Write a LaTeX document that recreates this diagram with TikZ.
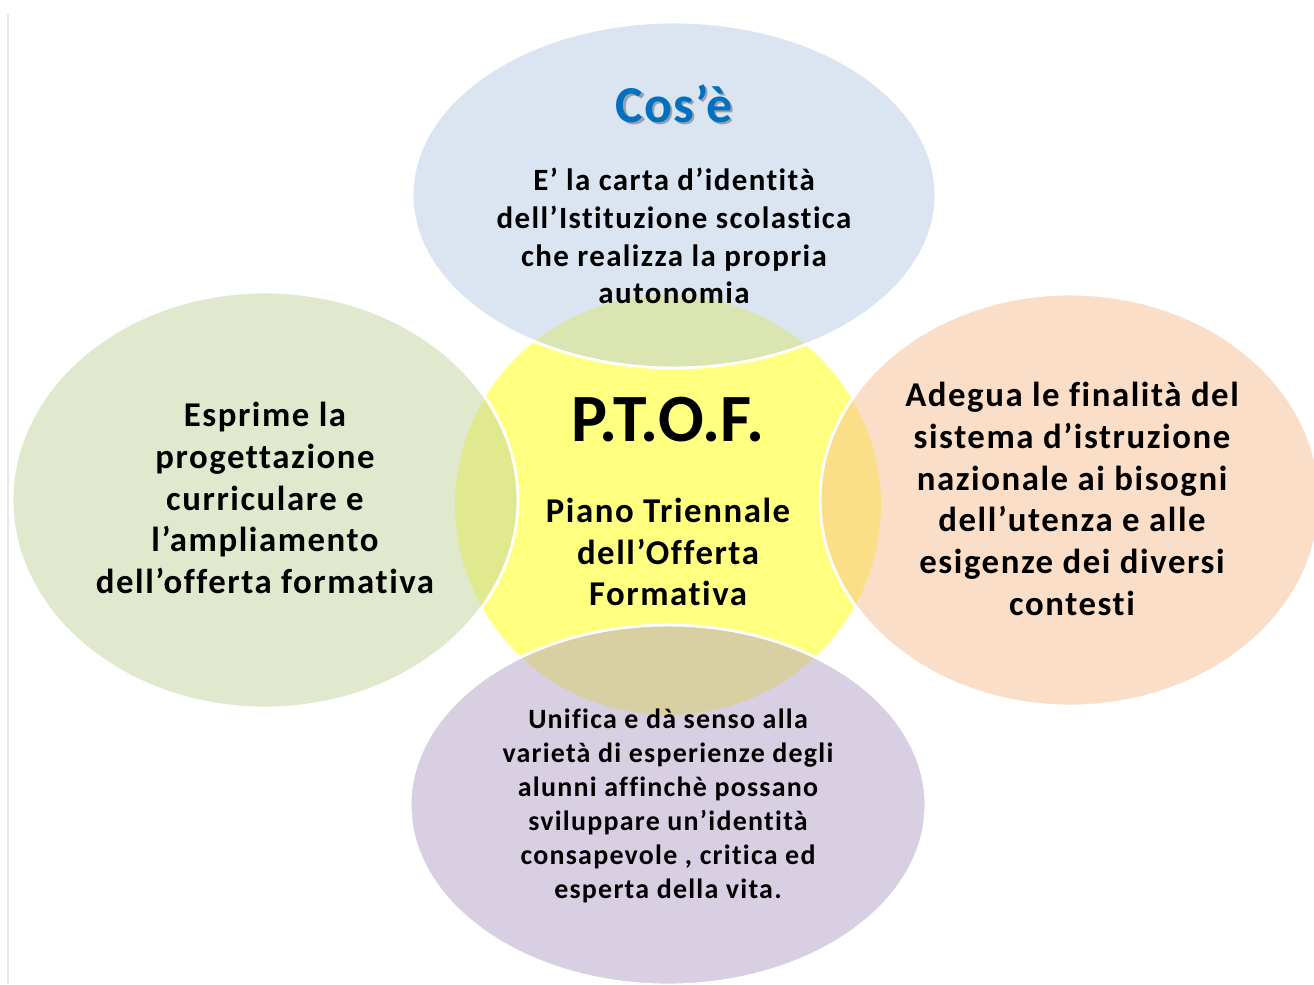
\documentclass[tikz,border=0pt]{standalone}
\usepackage{fontspec}
\setmainfont{Carlito}[Ligatures={NoCommon,NoRare,NoContextual}]
\newfontfamily\testofont{Carlito}[LetterSpace=4.5, Ligatures={NoCommon,NoRare,NoContextual}]
\newfontfamily\titolofont{Carlito}[LetterSpace=2, Ligatures={NoCommon,NoRare,NoContextual}]
\usetikzlibrary{shapes.geometric}

\definecolor{bluPetalo}{RGB}{185,205,229}
\definecolor{verdePetalo}{RGB}{195,212,157}
\definecolor{aranciaPetalo}{RGB}{247,191,145}
\definecolor{violaPetalo}{RGB}{179,161,199}
\definecolor{gialloCentro}{RGB}{255,255,128}
\definecolor{bluTitolo}{RGB}{0,112,192}
\definecolor{ombraTitolo}{RGB}{150,160,175}

\begin{document}
\begin{tikzpicture}[x=0.02cm, y=-0.02cm,
    petalo/.style={ellipse, draw=white, line width=1.6pt, fill opacity=0.5, inner sep=0pt},
    testo/.style={align=center, text=black}]
    \clip (0,0) rectangle (1314,984);
    \fill[white] (0,0) rectangle (1314,984);
    % bordo grigio a sinistra
    \draw[gray!18, line width=0.9pt] (8,14) -- (8,984);

    % Cerchio centrale
    \node[ellipse, fill=gialloCentro, inner sep=0pt,
          minimum width=8.52cm, minimum height=8.4cm] (centro) at (668,505) {};

    % Petali
    \node[petalo, fill=bluPetalo, minimum width=10.48cm, minimum height=6.92cm] (cose) at (674,195) {};
    \node[petalo, fill=verdePetalo, minimum width=10.12cm, minimum height=8.32cm] (esprime) at (265,500) {};
    \node[petalo, fill=aranciaPetalo, minimum width=10cm, minimum height=8.24cm] (adegua) at (1070,500) {};
    \node[petalo, fill=violaPetalo, minimum width=10.32cm, minimum height=7.2cm] (unifica) at (668,805) {};

    % Testi
    \node[text=bluTitolo, font=\titolofont\fontsize{29.5}{30}\selectfont\bfseries] (titolo) at (674,105)
        {\rlap{\hspace{1.2pt}\raisebox{-1.2pt}{\textcolor{ombraTitolo}{Cos’è}}}Cos’è};
    \node[testo, font=\testofont\fontsize{17.6}{21.5}\selectfont\bfseries] (identita) at (674,236)
        {E’ la carta d’identità\\dell’Istituzione scolastica\\che realizza la propria\\autonomia};
    \node[testo, font=\testofont\fontsize{19.8}{23.8}\selectfont\bfseries] (progetto) at (265,498)
        {Esprime la\\progettazione\\curriculare e\\l’ampliamento\\dell’offerta formativa};
    \node[testo, font=\testofont\fontsize{19.8}{23.8}\selectfont\bfseries] (finalita) at (1072,499)
        {Adegua le finalità del\\sistema d’istruzione\\nazionale ai bisogni\\dell’utenza e alle\\esigenze dei diversi\\contesti};
    \node[testo, font=\fontsize{38.5}{40}\selectfont\bfseries] (ptof) at (668,420) {P.T.O.F.};
    \node[testo, font=\testofont\fontsize{19.8}{23.8}\selectfont\bfseries] (piano) at (668,552)
        {Piano Triennale\\dell’Offerta\\Formativa};
    \node[testo, font=\testofont\fontsize{15.9}{19.3}\selectfont\bfseries] (senso) at (668,806)
        {Unifica e dà senso alla\\varietà di esperienze degli\\alunni affinchè possano\\sviluppare un’identità\\consapevole , critica ed\\esperta della vita.};
\end{tikzpicture}
\end{document}
